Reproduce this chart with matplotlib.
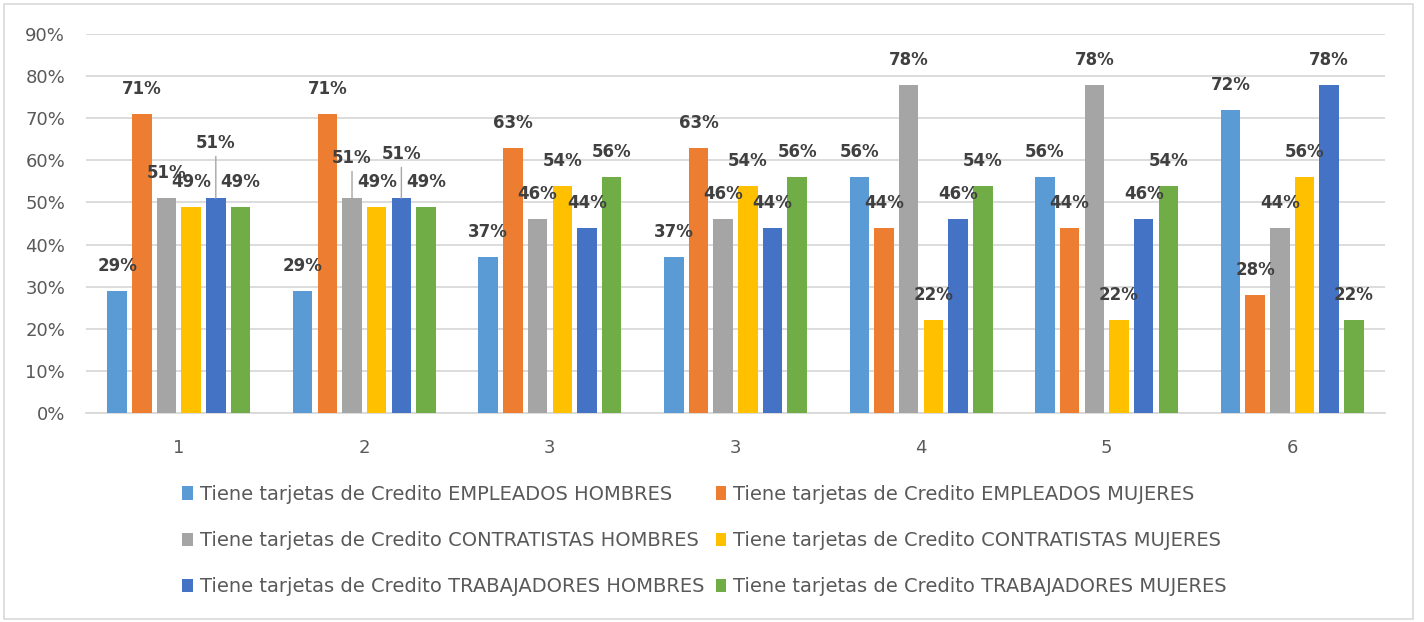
import matplotlib
matplotlib.use("Agg")
import matplotlib.pyplot as plt
from matplotlib.patches import Rectangle
import numpy as np

categories = ["1", "2", "3", "3", "4", "5", "6"]
series_names = [
    "Tiene tarjetas de Credito EMPLEADOS HOMBRES",
    "Tiene tarjetas de Credito EMPLEADOS MUJERES",
    "Tiene tarjetas de Credito CONTRATISTAS HOMBRES",
    "Tiene tarjetas de Credito CONTRATISTAS MUJERES",
    "Tiene tarjetas de Credito TRABAJADORES HOMBRES",
    "Tiene tarjetas de Credito TRABAJADORES MUJERES",
]
emp_hombres = [0.29, 0.29, 0.37, 0.37, 0.56, 0.56, 0.72]
emp_mujeres = [0.71, 0.71, 0.63, 0.63, 0.44, 0.44, 0.28]
con_hombres = [0.51, 0.51, 0.46, 0.46, 0.78, 0.78, 0.44]
con_mujeres = [0.49, 0.49, 0.54, 0.54, 0.22, 0.22, 0.56]
tra_hombres = [0.51, 0.51, 0.44, 0.44, 0.46, 0.46, 0.78]
tra_mujeres = [0.49, 0.49, 0.56, 0.56, 0.54, 0.54, 0.22]
series = [emp_hombres, emp_mujeres, con_hombres, con_mujeres, tra_hombres, tra_mujeres]
colors = ["#5B9BD5", "#ED7D31", "#A5A5A5", "#FFC000", "#4472C4", "#70AD47"]

# label layout tweaks: (series index, category index) -> pixel offset above bar top, leader line
label_offsets = {(4, 0): 55, (2, 1): 40, (4, 1): 44}

plt.rcParams['font.family'] = ['DejaVu Sans']
fig = plt.figure(figsize=(14.24, 6.22), dpi=100)
ax = fig.add_axes([86/1424, 1-413/622, (1385-86)/1424, (413-34)/622])

x = np.arange(len(categories))
pitch = 0.133
bw = 0.105
handles = []
for j, (vals, col, name) in enumerate(zip(series, colors, series_names)):
    pos = x + (j - 2.5) * pitch
    h = ax.bar(pos, vals, width=bw, color=col, label=name, zorder=3)
    handles.append(h)
    for i, (px, v) in enumerate(zip(pos, vals)):
        off = label_offsets.get((j, i), 25)
        kw = {}
        if (j, i) in label_offsets:
            kw['arrowprops'] = dict(arrowstyle='-', color='#A6A6A6', lw=1.0,
                                    shrinkA=1, shrinkB=0)
        ax.annotate(f"{int(round(v*100))}%", xy=(px, v), xytext=(0, off),
                    textcoords='offset pixels', ha='center', va='center',
                    fontsize=12, fontweight='bold', color='#404040', zorder=5, **kw)

ax.set_xlim(-0.5, len(categories) - 0.5)
ax.set_ylim(0, 0.9)
ax.set_yticks(np.arange(0, 0.91, 0.1))
ax.set_yticklabels([f"{int(round(t*100))}%" for t in np.arange(0, 0.91, 0.1)])
ax.set_xticks(x)
ax.set_xticklabels(categories)
ax.tick_params(axis='both', length=0, labelsize=13, colors='#595959')
ax.tick_params(axis='y', pad=15)
ax.tick_params(axis='x', pad=19)
ax.grid(axis='y', color='#D9D9D9', lw=1.3, zorder=0)
for s in ['top', 'right', 'left']:
    ax.spines[s].set_visible(False)
ax.spines['bottom'].set_color('#D9D9D9')
ax.spines['bottom'].set_linewidth(1.3)

order = [0, 2, 4, 1, 3, 5]
leg = fig.legend([handles[k] for k in order], [series_names[k] for k in order],
                 loc='upper left', bbox_to_anchor=(182/1424, 1-485/622), ncol=2,
                 frameon=False, fontsize=14, handlelength=0.55, handleheight=0.7,
                 handletextpad=0.35, columnspacing=0.6, labelspacing=1.4,
                 borderpad=0, borderaxespad=0)
for t in leg.get_texts():
    t.set_color('#595959')

fig.patches.append(Rectangle((4/1424, 3/622), 1409/1424, 615/622, transform=fig.transFigure,
                             fill=False, edgecolor='#D9D9D9', lw=1.2))
fig.savefig("out.png", dpi=100)
